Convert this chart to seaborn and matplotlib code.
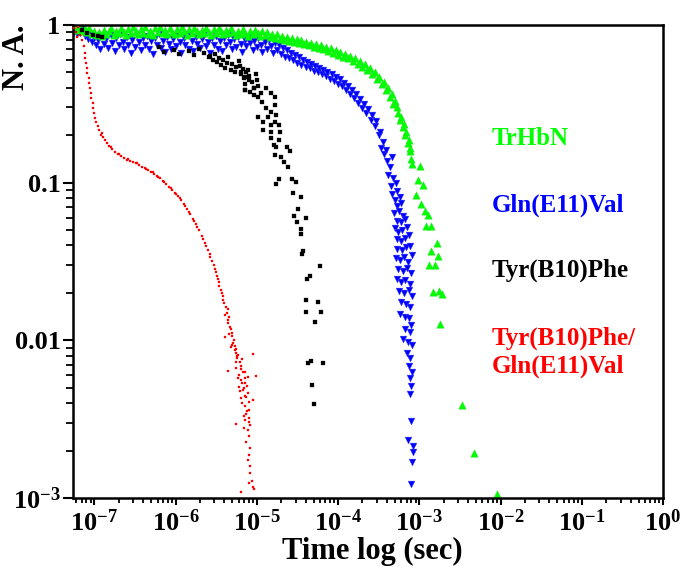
import matplotlib
matplotlib.use("Agg")
import matplotlib.pyplot as plt
import numpy as np
import pandas as pd
import seaborn as sns
from matplotlib.ticker import FixedLocator, FixedFormatter, LogLocator, NullFormatter

# ---------------- data (log10 units) ----------------
# each point: (log10 time [s], log10 N.A.)
trhbn_log_points = [
    (-7.24, -0.008), (-7.21, -0.030), (-7.18, -0.012), (-7.15, -0.038), (-7.12, -0.020),
    (-7.09, -0.045), (-7.06, -0.018), (-7.03, -0.055), (-7.00, -0.035), (-6.97, -0.065),
    (-6.94, -0.045), (-6.91, -0.070), (-6.88, -0.030), (-6.85, -0.058), (-6.82, -0.040),
    (-6.79, -0.020), (-6.76, -0.062), (-6.73, -0.035), (-6.70, -0.050), (-6.67, -0.018),
    (-6.64, -0.045), (-6.61, -0.065), (-6.58, -0.028), (-6.55, -0.052), (-6.52, -0.015),
    (-6.49, -0.040), (-6.46, -0.060), (-6.43, -0.025), (-6.40, -0.048), (-6.37, -0.015),
    (-6.34, -0.055), (-6.31, -0.035), (-6.28, -0.062), (-6.25, -0.022), (-6.22, -0.045),
    (-6.19, -0.012), (-6.16, -0.050), (-6.13, -0.030), (-6.10, -0.060), (-6.07, -0.020),
    (-6.04, -0.042), (-6.01, -0.058), (-5.98, -0.025), (-5.95, -0.048), (-5.92, -0.015),
    (-5.89, -0.038), (-5.86, -0.062), (-5.83, -0.028), (-5.80, -0.050), (-5.77, -0.018),
    (-5.74, -0.040), (-5.71, -0.060), (-5.68, -0.030), (-5.65, -0.052), (-5.62, -0.020),
    (-5.59, -0.045), (-5.56, -0.065), (-5.53, -0.028), (-5.50, -0.048), (-5.47, -0.018),
    (-5.44, -0.040), (-5.41, -0.060), (-5.38, -0.030), (-5.35, -0.052), (-5.32, -0.022),
    (-5.29, -0.045), (-5.26, -0.065), (-5.23, -0.035), (-5.20, -0.055), (-5.17, -0.025),
    (-5.14, -0.048), (-5.11, -0.068), (-5.08, -0.035), (-5.05, -0.058), (-5.02, -0.030),
    (-4.99, -0.050), (-4.96, -0.072), (-4.93, -0.040), (-4.90, -0.062), (-4.87, -0.045),
    (-4.84, -0.075), (-4.81, -0.055), (-4.78, -0.080), (-4.75, -0.060), (-4.72, -0.088),
    (-4.69, -0.068), (-4.66, -0.095), (-4.63, -0.075), (-4.60, -0.100), (-4.57, -0.082),
    (-4.54, -0.108), (-4.51, -0.088), (-4.48, -0.115), (-4.45, -0.095), (-4.42, -0.122),
    (-4.39, -0.105), (-4.36, -0.130), (-4.33, -0.112), (-4.30, -0.138), (-4.27, -0.118),
    (-4.24, -0.145), (-4.21, -0.128), (-4.18, -0.155), (-4.15, -0.138), (-4.12, -0.165),
    (-4.09, -0.148), (-4.06, -0.178), (-4.03, -0.160), (-4.00, -0.190), (-3.97, -0.170),
    (-3.94, -0.200), (-3.91, -0.182), (-3.88, -0.212), (-3.85, -0.195), (-3.82, -0.228),
    (-3.79, -0.210), (-3.76, -0.245), (-3.73, -0.228), (-3.70, -0.265), (-3.67, -0.250),
    (-3.64, -0.285), (-3.61, -0.272), (-3.58, -0.310), (-3.55, -0.300), (-3.52, -0.340),
    (-3.49, -0.330), (-3.46, -0.375), (-3.44, -0.360), (-3.41, -0.410), (-3.39, -0.400),
    (-3.36, -0.455), (-3.34, -0.440), (-3.32, -0.500), (-3.30, -0.485), (-3.28, -0.520),
    (-3.26, -0.560), (-3.24, -0.600), (-3.22, -0.585), (-3.20, -0.650), (-3.19, -0.625),
    (-3.17, -0.700), (-3.16, -0.680), (-3.14, -0.750), (-3.13, -0.730), (-3.12, -0.800),
    (-3.11, -0.780), (-3.10, -0.850), (-3.09, -0.880),
    (-2.99, -0.894), (-3.02, -0.983), (-2.96, -1.015), (-3.04, -1.078), (-2.98, -1.135),
    (-2.93, -1.180), (-2.89, -1.205), (-2.92, -1.275), (-2.86, -1.275), (-2.78, -1.382),
    (-2.85, -1.433), (-2.77, -1.465), (-2.88, -1.522), (-2.81, -1.522), (-2.83, -1.693),
    (-2.76, -1.687), (-2.72, -1.706), (-2.75, -1.896), (-2.48, -2.410), (-2.33, -2.714),
    (-2.04, -2.974),
]

gln_log_points = [
    (-7.27, -0.020), (-7.25, -0.045), (-7.23, -0.015), (-7.21, -0.060), (-7.19, -0.030),
    (-7.17, -0.050), (-7.15, -0.025), (-7.12, -0.070), (-7.10, -0.045), (-7.08, -0.090),
    (-7.05, -0.060), (-7.03, -0.110), (-7.00, -0.080), (-6.98, -0.130), (-6.95, -0.095),
    (-6.93, -0.150), (-6.90, -0.070), (-6.88, -0.120),
    (-6.85, -0.090), (-6.83, -0.145), (-6.80, -0.065), (-6.78, -0.115), (-6.75, -0.165),
    (-6.73, -0.085), (-6.70, -0.130), (-6.68, -0.060), (-6.65, -0.105), (-6.63, -0.155),
    (-6.60, -0.075), (-6.58, -0.125), (-6.55, -0.175), (-6.53, -0.095), (-6.50, -0.140),
    (-6.48, -0.065), (-6.45, -0.110), (-6.43, -0.160), (-6.40, -0.085), (-6.38, -0.130),
    (-6.35, -0.070), (-6.33, -0.150), (-6.30, -0.100), (-6.28, -0.185), (-6.25, -0.080),
    (-6.23, -0.125), (-6.20, -0.060), (-6.18, -0.145), (-6.15, -0.100), (-6.13, -0.170),
    (-6.10, -0.075), (-6.08, -0.120), (-6.05, -0.155), (-6.03, -0.090), (-6.00, -0.135),
    (-5.98, -0.065), (-5.95, -0.110), (-5.93, -0.175), (-5.90, -0.085), (-5.88, -0.130),
    (-5.85, -0.060), (-5.83, -0.150), (-5.80, -0.100), (-5.78, -0.165), (-5.75, -0.075),
    (-5.73, -0.120), (-5.70, -0.145), (-5.68, -0.090), (-5.65, -0.060), (-5.63, -0.135),
    (-5.60, -0.105), (-5.58, -0.180), (-5.55, -0.080), (-5.53, -0.125), (-5.50, -0.070),
    (-5.48, -0.150), (-5.45, -0.100), (-5.43, -0.165), (-5.40, -0.085), (-5.38, -0.130),
    (-5.35, -0.065), (-5.33, -0.110), (-5.30, -0.155), (-5.28, -0.090), (-5.25, -0.140),
    (-5.23, -0.075), (-5.20, -0.120), (-5.18, -0.170), (-5.15, -0.095), (-5.13, -0.135),
    (-5.10, -0.080), (-5.08, -0.115), (-5.05, -0.160), (-5.03, -0.100), (-5.00, -0.140),
    (-4.98, -0.085), (-4.95, -0.125), (-4.93, -0.170), (-4.90, -0.105), (-4.88, -0.150),
    (-4.85, -0.095), (-4.83, -0.135), (-4.80, -0.180), (-4.78, -0.115), (-4.75, -0.160),
    (-4.73, -0.125), (-4.70, -0.185), (-4.68, -0.145), (-4.65, -0.200), (-4.63, -0.160),
    (-4.60, -0.210), (-4.58, -0.175), (-4.55, -0.225), (-4.53, -0.190), (-4.50, -0.240),
    (-4.48, -0.205), (-4.45, -0.255), (-4.43, -0.220), (-4.40, -0.265), (-4.38, -0.235),
    (-4.35, -0.275), (-4.33, -0.245), (-4.30, -0.290), (-4.28, -0.260), (-4.25, -0.300),
    (-4.23, -0.270), (-4.20, -0.310), (-4.18, -0.285), (-4.15, -0.325), (-4.13, -0.295),
    (-4.10, -0.340), (-4.08, -0.310), (-4.05, -0.355), (-4.03, -0.330), (-4.00, -0.375),
    (-3.98, -0.345), (-3.95, -0.390), (-3.93, -0.365), (-3.90, -0.410), (-3.88, -0.385),
    (-3.85, -0.440), (-3.83, -0.410), (-3.80, -0.465), (-3.78, -0.440), (-3.75, -0.495),
    (-3.73, -0.470), (-3.70, -0.525), (-3.68, -0.500), (-3.65, -0.560), (-3.63, -0.535),
    (-3.60, -0.600), (-3.58, -0.570), (-3.55, -0.640), (-3.53, -0.610),
    (-3.50, -0.700), (-3.48, -0.680), (-3.47, -0.780), (-3.45, -0.740), (-3.43, -0.820),
    (-3.41, -0.790), (-3.40, -0.860), (-3.36, -0.900), (-3.33, -0.840), (-3.38, -0.950),
    (-3.32, -0.970), (-3.35, -1.020), (-3.29, -1.000), (-3.33, -1.070), (-3.27, -1.050),
    (-3.30, -1.110), (-3.24, -1.090), (-3.28, -1.150), (-3.22, -1.130), (-3.31, -1.190),
    (-3.25, -1.180), (-3.20, -1.210), (-3.28, -1.240), (-3.23, -1.250), (-3.17, -1.230),
    (-3.30, -1.290), (-3.26, -1.310), (-3.21, -1.300), (-3.15, -1.280), (-3.28, -1.360),
    (-3.23, -1.370), (-3.18, -1.350), (-3.13, -1.330), (-3.27, -1.420), (-3.21, -1.430),
    (-3.16, -1.410), (-3.11, -1.400), (-3.29, -1.480), (-3.24, -1.490), (-3.19, -1.470),
    (-3.14, -1.500), (-3.09, -1.460), (-3.26, -1.550), (-3.20, -1.560), (-3.15, -1.540),
    (-3.10, -1.570), (-3.28, -1.610), (-3.22, -1.630), (-3.17, -1.620), (-3.12, -1.640),
    (-3.25, -1.690), (-3.19, -1.700), (-3.13, -1.680), (-3.09, -1.720), (-3.22, -1.760),
    (-3.16, -1.770), (-3.11, -1.790), (-3.24, -1.830), (-3.18, -1.850), (-3.13, -1.860),
    (-3.10, -1.900), (-3.17, -1.930), (-3.12, -1.950), (-3.20, -1.990), (-3.14, -2.010),
    (-3.09, -2.030), (-3.15, -2.080), (-3.11, -2.110), (-3.13, -2.160), (-3.09, -2.200),
    (-3.12, -2.240), (-3.10, -2.290), (-3.11, -2.340),
    (-3.10, -2.510), (-3.14, -2.630), (-3.08, -2.670), (-3.08, -2.710), (-3.09, -2.770),
    (-3.10, -2.910),
]

tyr_log_points = [
    (-7.15, -0.032), (-7.09, -0.051), (-7.02, -0.063), (-6.96, -0.070), (-6.90, -0.076),
    (-6.20, -0.140), (-6.14, -0.171), (-6.02, -0.159), (-5.96, -0.184),
    (-5.84, -0.165), (-5.77, -0.190), (-5.71, -0.152), (-5.65, -0.178),
    (-5.59, -0.203),
    (-5.57, -0.197), (-5.54, -0.222), (-5.52, -0.184), (-5.49, -0.235), (-5.47, -0.209),
    (-5.44, -0.254), (-5.42, -0.222), (-5.39, -0.273), (-5.37, -0.241), (-5.35, -0.203),
    (-5.32, -0.285), (-5.30, -0.247), (-5.27, -0.298), (-5.25, -0.266), (-5.22, -0.228),
    (-5.20, -0.311), (-5.17, -0.279), (-5.15, -0.330), (-5.13, -0.298), (-5.10, -0.349),
    (-5.21, -0.260), (-5.19, -0.298), (-5.16, -0.336), (-5.14, -0.374), (-5.11, -0.285),
    (-5.09, -0.323), (-5.06, -0.361), (-5.04, -0.400), (-5.01, -0.311), (-5.08, -0.425),
    (-5.15, -0.412), (-5.00, -0.349), (-4.98, -0.387), (-4.95, -0.431), (-5.03, -0.444),
    (-5.14, -0.412), (-5.04, -0.400), (-4.89, -0.400), (-4.82, -0.431), (-4.98, -0.457),
    (-4.77, -0.457), (-4.94, -0.488), (-4.77, -0.507), (-4.89, -0.526), (-4.82, -0.552),
    (-4.98, -0.583), (-4.86, -0.583), (-4.76, -0.571), (-4.77, -0.615), (-4.92, -0.615),
    (-4.83, -0.634), (-4.73, -0.634), (-4.92, -0.666), (-4.83, -0.679), (-4.71, -0.679),
    (-4.82, -0.717), (-4.73, -0.729), (-4.79, -0.761), (-4.76, -0.774), (-4.63, -0.774),
    (-4.59, -0.799), (-4.77, -0.824), (-4.70, -0.837), (-4.66, -0.869), (-4.61, -0.900),
    (-4.73, -0.977), (-4.76, -1.008), (-4.57, -0.977), (-4.52, -0.996), (-4.55, -1.065),
    (-4.46, -1.091), (-4.49, -1.167), (-4.54, -1.211), (-4.39, -1.224), (-4.50, -1.249),
    (-4.45, -1.294), (-4.45, -1.325), (-4.43, -1.433), (-4.44, -1.452), (-4.22, -1.528),
    (-4.35, -1.592), (-4.38, -1.611), (-4.40, -1.744), (-4.25, -1.757), (-4.40, -1.820),
    (-4.21, -1.820), (-4.28, -1.883), (-4.37, -2.143), (-4.33, -2.131), (-4.18, -2.143),
    (-4.32, -2.283), (-4.29, -2.403),
]

double_log_points = [
    (-7.25, -0.019), (-7.22, -0.044), (-7.20, -0.013), (-7.17, -0.063), (-7.21, -0.076),
    (-7.15, -0.095), (-7.13, -0.133), (-7.12, -0.178), (-7.11, -0.209), (-7.10, -0.241),
    (-7.09, -0.273), (-7.09, -0.304), (-7.07, -0.336), (-7.06, -0.368), (-7.05, -0.400),
    (-7.04, -0.431), (-7.04, -0.463), (-7.02, -0.495), (-7.01, -0.526), (-7.00, -0.558),
    (-6.99, -0.590), (-6.98, -0.615), (-6.96, -0.640), (-6.94, -0.666), (-6.91, -0.685),
    (-6.89, -0.710), (-6.87, -0.729), (-6.84, -0.748), (-6.82, -0.767), (-6.78, -0.786),
    (-6.74, -0.805), (-6.71, -0.818), (-6.67, -0.831), (-6.63, -0.843), (-6.60, -0.856),
    (-6.56, -0.862), (-6.52, -0.869), (-6.49, -0.875), (-6.45, -0.888), (-6.41, -0.900),
    (-6.38, -0.907), (-6.34, -0.919), (-6.30, -0.932), (-6.26, -0.945), (-6.23, -0.958),
    (-6.19, -0.970), (-6.15, -0.989), (-6.12, -1.008), (-6.08, -1.027), (-6.04, -1.046),
    (-6.01, -1.065), (-5.97, -1.084), (-5.93, -1.110), (-5.90, -1.135), (-5.86, -1.167),
    (-5.82, -1.198), (-5.79, -1.230), (-5.75, -1.262), (-5.71, -1.300), (-5.68, -1.338),
    (-5.64, -1.382), (-5.60, -1.427), (-5.57, -1.471), (-5.53, -1.522), (-5.50, -1.566),
    (-5.48, -1.611), (-5.46, -1.655), (-5.43, -1.699), (-5.41, -1.744), (-5.38, -1.788),
    (-5.37, -1.826), (-5.35, -1.871), (-5.33, -1.915), (-5.31, -1.953), (-5.28, -1.997),
    (-5.27, -2.035), (-5.25, -2.080),
    (-6.92, -0.700), (-6.80, -0.775), (-6.69, -0.820), (-6.58, -0.852), (-6.47, -0.878),
    (-6.36, -0.915), (-6.28, -0.935), (-6.21, -0.962), (-6.14, -0.998), (-6.06, -1.035),
    (-5.99, -1.072), (-5.95, -1.100), (-5.88, -1.150), (-5.84, -1.185), (-5.77, -1.245),
    (-5.73, -1.280), (-5.66, -1.360), (-5.62, -1.400), (-5.58, -1.450), (-5.55, -1.497),
    (-5.52, -1.545), (-5.49, -1.590), (-5.47, -1.630), (-5.44, -1.680), (-5.42, -1.720),
    (-5.40, -1.765), (-5.36, -1.800), (-5.39, -1.840), (-5.34, -1.850), (-5.36, -1.890),
    (-5.32, -1.930), (-5.34, -1.960), (-5.30, -1.975), (-5.29, -2.015), (-5.32, -2.045),
    (-5.26, -2.055), (-5.24, -2.100),
    (-5.39, -1.978), (-5.35, -2.194), (-5.05, -2.086), (-5.01, -2.226), (-5.26, -2.530),
    (-5.16, -2.555), (-5.05, -2.378), (-5.22, -2.296), (-5.11, -2.232), (-5.31, -2.029),
    (-5.27, -2.061), (-5.24, -2.112), (-5.21, -2.137), (-5.19, -2.162), (-5.25, -2.175),
    (-5.17, -2.201), (-5.15, -2.239), (-5.22, -2.219), (-5.20, -2.251), (-5.14, -2.270),
    (-5.17, -2.315), (-5.11, -2.334), (-5.15, -2.353), (-5.20, -2.365), (-5.10, -2.391),
    (-5.14, -2.416), (-5.09, -2.441), (-5.13, -2.467), (-5.10, -2.492), (-5.15, -2.505),
    (-5.08, -2.536), (-5.11, -2.568), (-5.09, -2.606), (-5.13, -2.644), (-5.08, -2.682),
    (-5.10, -2.727), (-5.11, -2.758), (-5.08, -2.796), (-5.08, -2.841), (-5.06, -2.892),
    (-5.09, -2.904), (-5.05, -2.930), (-5.20, -2.961), (-5.03, -2.942),
    (-5.23, -2.090), (-5.18, -2.120), (-5.26, -2.140), (-5.20, -2.180), (-5.14, -2.200),
    (-5.23, -2.240), (-5.18, -2.270), (-5.12, -2.290), (-5.21, -2.320), (-5.16, -2.300),
    (-5.13, -2.360), (-5.18, -2.400), (-5.12, -2.450), (-5.16, -2.480), (-5.10, -2.520),
]

series_names = ["TrHbN", "Gln(E11)Val", "Tyr(B10)Phe", "Tyr(B10)Phe/\nGln(E11)Val"]

x_tick_exponents = [-7, -6, -5, -4, -3, -2, -1, 0]
x_tick_labels = [r"$10^{-7}$", r"$10^{-6}$", r"$10^{-5}$", r"$10^{-4}$",
                 r"$10^{-3}$", r"$10^{-2}$", r"$10^{-1}$", r"$10^{0}$"]
y_tick_values = [1e-3, 1e-2, 1e-1, 1.0]
y_tick_labels = [r"$10^{-3}$", "0.01", "0.1", "1"]


def to_frame(points):
    df = pd.DataFrame(points, columns=["log_t", "log_na"])
    df["t"] = 10.0 ** df["log_t"]
    df["na"] = 10.0 ** df["log_na"]
    return df


# ---------------- style ----------------
sns.set_theme(style="white")
plt.rcParams["font.family"] = ["Liberation Serif", "DejaVu Serif"]
plt.rcParams["font.weight"] = "bold"
plt.rcParams["text.color"] = "black"
plt.rcParams["axes.labelcolor"] = "black"
plt.rcParams["xtick.color"] = "black"
plt.rcParams["ytick.color"] = "black"
plt.rcParams["mathtext.fontset"] = "custom"
plt.rcParams["mathtext.rm"] = "Liberation Serif:bold"
plt.rcParams["mathtext.it"] = "Liberation Serif:bold:italic"
plt.rcParams["mathtext.bf"] = "Liberation Serif:bold"
plt.rcParams["mathtext.default"] = "bf"

fig = plt.figure(figsize=(6.81, 5.67), dpi=100)
ax = fig.add_axes([73 / 681, 69 / 567, 590 / 681, 473 / 567])

GREEN = "#00ff00"
BLUE = "#0000ff"
BLACK = "#000000"
RED = "#ff0000"

sns.scatterplot(data=to_frame(gln_log_points), x="t", y="na", marker="v", s=24,
                color=BLUE, edgecolor="#4040ff", linewidth=0.3, ax=ax, legend=False, zorder=2)
sns.scatterplot(data=to_frame(tyr_log_points), x="t", y="na", marker="s", s=6,
                color=BLACK, edgecolor=BLACK, linewidth=0.2, ax=ax, legend=False, zorder=3)
sns.scatterplot(data=to_frame(trhbn_log_points), x="t", y="na", marker="^", s=28,
                color=GREEN, edgecolor="#20e020", linewidth=0.3, ax=ax, legend=False, zorder=2)
sns.scatterplot(data=to_frame(double_log_points), x="t", y="na", marker="s", s=4.5,
                color=RED, edgecolor=RED, linewidth=0.2, ax=ax, legend=False, zorder=4)

ax.set_xscale("log")
ax.set_yscale("log")
ax.set_xlim(10 ** -7.262, 1.0)
ax.set_ylim(1e-3, 1.0)

ax.xaxis.set_major_locator(FixedLocator([10.0 ** e for e in x_tick_exponents]))
ax.xaxis.set_major_formatter(FixedFormatter(x_tick_labels))
ax.xaxis.set_minor_locator(LogLocator(base=10, subs=np.arange(2, 10), numticks=50))
ax.xaxis.set_minor_formatter(NullFormatter())
ax.yaxis.set_major_locator(FixedLocator(y_tick_values))
ax.yaxis.set_major_formatter(FixedFormatter(y_tick_labels))
ax.yaxis.set_minor_locator(LogLocator(base=10, subs=np.arange(2, 10), numticks=50))
ax.yaxis.set_minor_formatter(NullFormatter())

ax.tick_params(axis="x", which="major", direction="out", length=5, width=1.5,
               labelsize=19, pad=3, bottom=True, top=False, colors="black")
ax.tick_params(axis="x", which="minor", direction="out", length=3.5, width=1.3,
               bottom=True, top=False, colors="black")
ax.tick_params(axis="y", which="major", direction="out", length=7, width=1.5,
               labelsize=19, pad=2, left=True, right=False, colors="black")
ax.tick_params(axis="y", which="minor", direction="out", length=5, width=1.3,
               left=True, right=False, colors="black")

for side in ["left", "bottom", "top", "right"]:
    ax.spines[side].set_visible(True)
    ax.spines[side].set_color("black")
    ax.spines[side].set_linewidth(1.8)

ax.set_xlabel("Time log (sec)", fontsize=22, fontweight="bold", color="black")
ax.set_ylabel("N. A.", fontsize=22, fontweight="bold", color="black")
ax.xaxis.set_label_coords(0.507, -0.083)
ax.yaxis.set_label_coords(-0.072, 0.932)

legend_colors = [GREEN, BLUE, BLACK, RED]
legend_y = [0.761, 0.619, 0.482, 0.309]
for name, col, yy in zip(series_names, legend_colors, legend_y):
    ax.text(0.709, yy, name, color=col, fontsize=18, fontweight="bold",
            transform=ax.transAxes, ha="left", va="center", linespacing=1.25)

fig.savefig("out.png", dpi=100)
